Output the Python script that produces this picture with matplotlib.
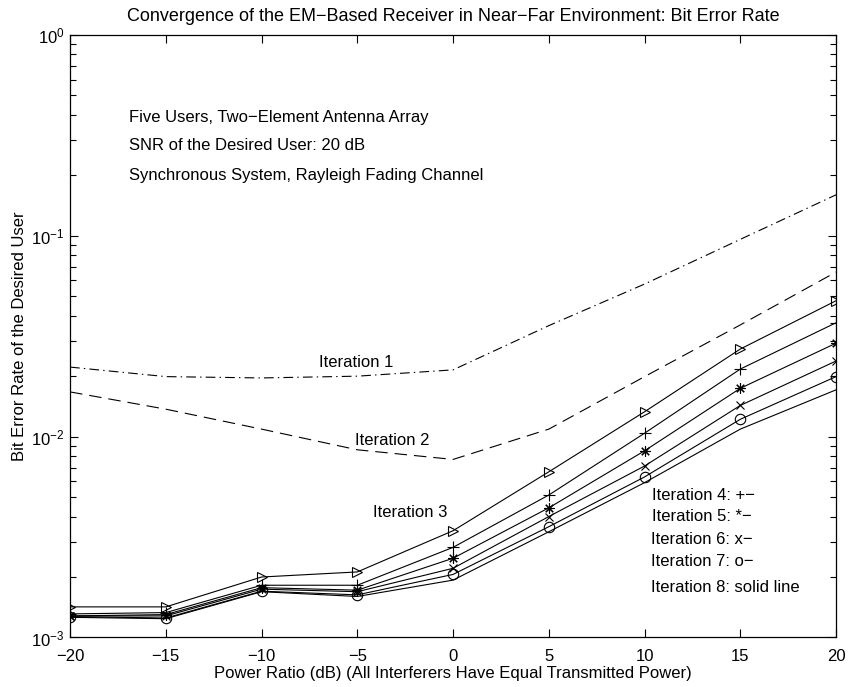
import matplotlib.pyplot as plt
from matplotlib.ticker import LogLocator

plt.rcParams['font.family'] = ['Liberation Sans', 'DejaVu Sans']
plt.rcParams['font.size'] = 12
plt.rcParams['lines.scale_dashes'] = False

power_ratio = [-20, -15, -10, -5, 0, 5, 10, 15, 20]

# bit error rate of the desired user after each EM iteration
ber_iter1 = [0.0222, 0.0199, 0.0196, 0.0200, 0.0215, 0.0357, 0.0575, 0.096, 0.160]
ber_iter2 = [0.0167, 0.0137, 0.0109, 0.0086, 0.0077, 0.0109, 0.0199, 0.036, 0.066]
ber_iter3 = [0.00142, 0.00142, 0.0020, 0.00212, 0.0034, 0.00668, 0.0133, 0.0273, 0.0475]
ber_iter4 = [0.00131, 0.00133, 0.00182, 0.00182, 0.00281, 0.00512, 0.0104, 0.0217, 0.0369]
ber_iter5 = [0.00128, 0.00130, 0.00177, 0.00172, 0.00248, 0.00442, 0.0085, 0.0174, 0.0292]
ber_iter6 = [0.00128, 0.00128, 0.00174, 0.00169, 0.00221, 0.00400, 0.00714, 0.0143, 0.0238]
ber_iter7 = [0.00127, 0.00125, 0.00170, 0.00163, 0.00206, 0.00356, 0.0063, 0.0122, 0.0199]
ber_iter8 = [0.00126, 0.00124, 0.00169, 0.00160, 0.00193, 0.00336, 0.0059, 0.0109, 0.0171]

fig = plt.figure(figsize=(8.5, 6.87), dpi=100)
ax = fig.add_axes([0.0824, 0.0721, 0.9012, 0.877])

lw = 0.8
ms = 7.5
ax.semilogy(power_ratio, ber_iter1, color='k', lw=lw, dashes=(7, 3, 1, 3))
ax.semilogy(power_ratio, ber_iter2, color='k', lw=lw, dashes=(9, 5))
ax.semilogy(power_ratio, ber_iter3, color='k', lw=lw, marker='>', ms=ms, mfc='none', mew=lw)
ax.semilogy(power_ratio, ber_iter4, color='k', lw=lw, marker='+', ms=ms + 1, mew=lw)
ax.semilogy(power_ratio, ber_iter5, color='k', lw=lw, marker=(8, 2, 0), ms=ms, mew=lw)
ax.semilogy(power_ratio, ber_iter6, color='k', lw=lw, marker='x', ms=ms - 1.5, mew=lw)
ax.semilogy(power_ratio, ber_iter7, color='k', lw=lw, marker='o', ms=ms, mfc='none', mew=lw)
ax.semilogy(power_ratio, ber_iter8, color='k', lw=lw)

ax.set_xlim(-20, 20)
ax.set_ylim(1e-3, 1)
ax.set_xticks(power_ratio)
ax.set_xticklabels([str(v).replace('-', '\u2212') for v in power_ratio])
ax.yaxis.set_minor_locator(LogLocator(base=10, subs=range(2, 10)))
ax.tick_params(which='both', direction='in', top=True, right=True, width=0.8)
ax.tick_params(which='major', length=6, pad=4)
ax.tick_params(axis='x', which='major', pad=8)
ax.tick_params(which='minor', length=4)
for s in ax.spines.values():
    s.set_linewidth(0.9)

ax.set_title('Convergence of the EM\u2212Based Receiver in Near\u2212Far Environment: Bit Error Rate',
             fontsize=13, pad=10)
ax.set_xlabel('Power Ratio (dB) (All Interferers Have Equal Transmitted Power)', labelpad=2)
ax.set_ylabel('Bit Error Rate of the Desired User', labelpad=3)

ax.text(-16.9, 0.39, 'Five Users, Two\u2212Element Antenna Array', va='center')
ax.text(-16.9, 0.28, 'SNR of the Desired User: 20 dB', va='center')
ax.text(-16.9, 0.20, 'Synchronous System, Rayleigh Fading Channel', va='center')

ax.text(-5.08, 0.0233, 'Iteration 1', ha='center', va='center')
ax.text(-3.19, 0.0096, 'Iteration 2', ha='center', va='center')
ax.text(-2.25, 0.0042, 'Iteration 3', ha='center', va='center')

ax.text(10.41, 0.00512, 'Iteration 4: +\u2212', va='center')
ax.text(10.41, 0.00402, 'Iteration 5: *\u2212', va='center')
ax.text(10.33, 0.00306, 'Iteration 6: x\u2212', va='center')
ax.text(10.33, 0.00238, 'Iteration 7: o\u2212', va='center')
ax.text(10.33, 0.00178, 'Iteration 8: solid line', va='center')

plt.savefig('out.png', dpi=100)
